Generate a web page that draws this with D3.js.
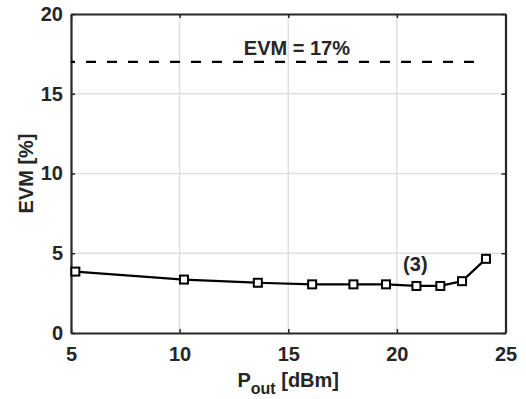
<!DOCTYPE html>
<html>
<head>
<meta charset="utf-8">
<script src="https://cdn.jsdelivr.net/npm/d3@7"></script>
<style>
  body { margin: 0; background: #fff; }
  text { font-family: "Liberation Sans", Arial, sans-serif; font-weight: bold; fill: #262626; }
</style>
</head>
<body>
<svg id="chart"></svg>
<script>
const pout = [5.2, 10.2, 13.6, 16.1, 18.0, 19.5, 20.9, 22.0, 23.0, 24.1]
const evm = [3.85, 3.35, 3.15, 3.05, 3.05, 3.05, 2.95, 2.95, 3.25, 4.65]
const xTicks = [5, 10, 15, 20, 25]
const yTicks = [0, 5, 10, 15, 20]
const limitValue = 17
const limitRange = [5, 24.05]

const width = 526, height = 399
const margin = { top: 14, right: 20, bottom: 66, left: 71 }
const w = 505.5 - margin.left
const h = 333 - margin.top

const svg = d3.select('#chart').attr('width', width).attr('height', height)
const g = svg.append('g').attr('transform', `translate(${margin.left},${margin.top})`)

const x = d3.scaleLinear().domain([5, 25]).range([0, w])
const y = d3.scaleLinear().domain([0, 20]).range([h, 0])

// grid
g.append('g').selectAll('line').data(xTicks.slice(1, -1)).join('line')
    .attr('x1', d => x(d)).attr('x2', d => x(d)).attr('y1', 0).attr('y2', h)
    .attr('stroke', '#e0e0e0').attr('stroke-width', 1.5)
g.append('g').selectAll('line').data(yTicks.slice(1, -1)).join('line')
    .attr('y1', d => y(d)).attr('y2', d => y(d)).attr('x1', 0).attr('x2', w)
    .attr('stroke', '#e0e0e0').attr('stroke-width', 1.5)

// axes
const xAxis = d3.axisBottom(x).tickValues(xTicks).tickSize(-4).tickPadding(14).tickSizeOuter(0)
const yAxis = d3.axisLeft(y).tickValues(yTicks).tickSize(-4).tickPadding(8).tickSizeOuter(0)
g.append('g').attr('transform', `translate(0,${h})`).call(xAxis)
g.append('g').call(yAxis)
g.append('g').call(d3.axisTop(x).tickValues(xTicks).tickSize(-4).tickFormat('').tickSizeOuter(0))
g.append('g').attr('transform', `translate(${w},0)`)
    .call(d3.axisRight(y).tickValues(yTicks).tickSize(-4).tickFormat('').tickSizeOuter(0))
g.selectAll('.domain').attr('stroke', '#262626').attr('stroke-width', 2.2)
g.selectAll('.tick line').attr('stroke', '#262626').attr('stroke-width', 1.5)
g.selectAll('.tick text').style('font-size', '20px').attr('fill', '#262626')

// limit line
g.append('line')
    .attr('x1', x(limitRange[0])).attr('x2', x(limitRange[1]))
    .attr('y1', y(limitValue)).attr('y2', y(limitValue))
    .attr('stroke', '#000').attr('stroke-width', 2.2)
    .attr('stroke-dasharray', '10,11').attr('stroke-dashoffset', 6)
g.append('text').attr('x', x(15.4)).attr('y', y(limitValue) - 7)
    .attr('text-anchor', 'middle').style('font-size', '20px').text('EVM = 17%')

// series
const line = d3.line().x((d, i) => x(pout[i])).y(d => y(d))
g.append('path').datum(evm).attr('d', line)
    .attr('fill', 'none').attr('stroke', '#000').attr('stroke-width', 2.2)
g.selectAll('.pt').data(evm).join('rect').attr('class', 'pt')
    .attr('x', (d, i) => x(pout[i]) - 4).attr('y', d => y(d) - 4)
    .attr('width', 8).attr('height', 8)
    .attr('fill', '#fff').attr('stroke', '#000').attr('stroke-width', 2)

g.append('text').attr('x', x(20.85)).attr('y', y(3.9))
    .attr('text-anchor', 'middle').style('font-size', '20px').text('(3)')

// labels
svg.append('text').attr('transform', `translate(33,${margin.top + h / 2}) rotate(-90)`)
    .attr('text-anchor', 'middle').style('font-size', '20px').text('EVM [%]')
const xl = svg.append('text').attr('x', margin.left + w / 2).attr('y', 387)
    .attr('text-anchor', 'middle').style('font-size', '20px')
xl.append('tspan').text('P')
xl.append('tspan').attr('dy', 7).style('font-size', '16px').text('out')
xl.append('tspan').attr('dy', -7).text(' [dBm]')
</script>
</body>
</html>
